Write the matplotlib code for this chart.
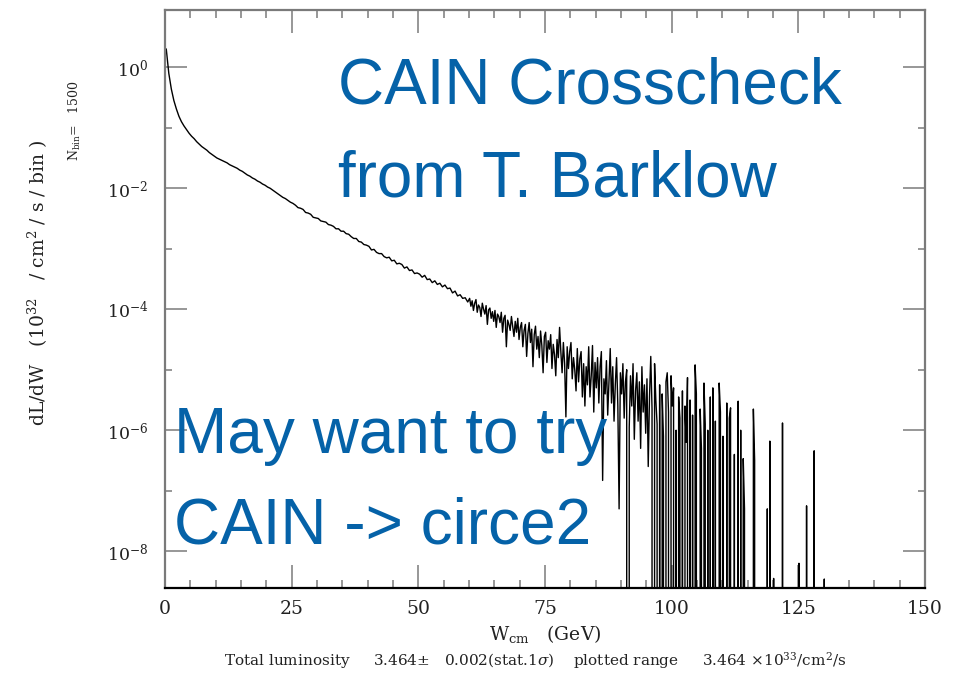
import numpy as np
import matplotlib
matplotlib.use("Agg")
import matplotlib.pyplot as plt
from matplotlib.ticker import FixedLocator, MultipleLocator, NullFormatter

# ---------------- data ----------------
# Region A: 0-60 GeV, bins of 0.5 GeV; log10(dL/dW) per bin
A_start, A_width = 0.0, 0.5
log10_dLdW_A = [
    0.30, -0.10, -0.36, -0.55, -0.69, -0.81, -0.90, -0.97, -1.03, -1.09,   # 0-5
    -1.14, -1.18, -1.23, -1.27, -1.31, -1.34, -1.37, -1.41, -1.44, -1.47,  # 5-10
    -1.50, -1.52, -1.54, -1.56, -1.58, -1.61, -1.63, -1.65, -1.67, -1.70,  # 10-15
    -1.72, -1.75, -1.78, -1.80, -1.83, -1.85, -1.88, -1.90, -1.93, -1.95,  # 15-20
    -1.98, -2.00, -2.03, -2.06, -2.09, -2.12, -2.15, -2.17, -2.20, -2.23,  # 20-25
    -2.25, -2.28, -2.32, -2.33, -2.35, -2.40, -2.41, -2.43, -2.48, -2.49,  # 25-30
    -2.50, -2.54, -2.55, -2.56, -2.60, -2.61, -2.63, -2.67, -2.67, -2.71,  # 30-35
    -2.71, -2.75, -2.76, -2.80, -2.83, -2.83, -2.88, -2.89, -2.93, -2.94,  # 35-40
    -2.96, -3.02, -3.01, -3.06, -3.08, -3.08, -3.13, -3.15, -3.14, -3.20,  # 40-45
    -3.19, -3.25, -3.24, -3.26, -3.32, -3.30, -3.36, -3.35, -3.41, -3.40,  # 45-50
    -3.42, -3.47, -3.44, -3.51, -3.50, -3.56, -3.53, -3.59, -3.57, -3.63,  # 50-55
    -3.60, -3.66, -3.65, -3.73, -3.70, -3.78, -3.76, -3.82, -3.81, -3.88,  # 55-60
]
# Region B: 60-131 GeV, bins of 0.25 GeV; None = empty bin
B_start, B_width = 60.0, 0.25
log10_dLdW_B = [
    -3.82, -3.95, -3.86, -4.02,   -3.90, -3.84, -4.05, -3.93,   # 60-62
    -3.97, -4.12, -3.90, -4.00,   -4.08, -3.94, -4.25, -4.01,   # 62-64
    -3.98, -4.15, -4.04, -4.20,   -4.02, -4.30, -4.08, -4.12,   # 64-66
    -4.22, -4.05, -4.38, -4.15,   -4.10, -4.62, -4.18, -4.25,   # 66-68
    -4.35, -4.12, -4.28, -4.45,   -4.20, -4.38, -4.15, -4.50,   # 68-70
    -4.30, -4.22, -4.62, -4.35,   -4.25, -4.78, -4.40, -4.22,   # 70-72
    -4.55, -4.33, -4.95, -4.42,   -4.28, -4.66, -4.45, -4.80,   # 72-74
    -4.36, -4.60, -5.05, -4.45,   -4.38, -4.88, -4.52, -4.66,   # 74-76
    -4.42, -4.98, -4.58, -4.75,   -5.10, -4.50, -4.80, -4.30,   # 76-78
    -4.70, -5.05, -4.55, -4.90,   -5.78, -4.62, -4.98, -4.70,   # 78-80
    -4.55, -5.15, -4.80, -5.00,   -5.35, -4.65, -5.20, -4.82,   # 80-82
    -4.70, -5.45, -4.90, -5.60,   -4.95, -5.25, -4.62, -5.45,   # 82-84
    -5.10, -4.60, -5.70, -4.88,   -5.30, -4.80, -5.55, -4.95,   # 84-86
    -4.70, -6.83, -5.15, -5.40,   -4.85, -5.75, -5.20, -4.65,   # 86-88
    -5.55, -4.95, -5.85, -5.25,   -4.80, -5.60, -7.30, -5.05,   # 88-90
    -5.40, -4.90, -5.80, -5.20,   -5.00, None, -5.95, -5.10,    # 90-92
    -5.60, -4.90, -6.15, -5.35,   -5.05, -5.85, -5.20, -6.30,   # 92-94
    -4.95, -5.70, -5.25, -6.05,   -5.15, -6.60, -5.45, -4.78,   # 94-96
    -5.65, None, -4.90, -5.50,    -5.90, None, -5.25, None,     # 96-98
    -5.40, -6.10, None, -5.20,    -5.05, -5.70, None, -5.10,    # 98-100
    -5.60, -5.30, None, -6.00,    None, -5.45, -5.80, None,     # 100-102
    -5.35, None, -5.60, -6.20,    -5.13, None, -5.50, None,     # 102-104
    -5.75, None, -4.92, -5.40,    None, None, -5.65, -6.30,     # 104-106
    None, -5.22, -5.90, None,     -6.00, None, -5.45, None,     # 106-108
    -5.30, None, -5.85, None,     None, -5.22, -5.70, None,     # 108-110
    -6.10, None, None, -5.55,     None, -5.80, -5.63, None,     # 110-112
    None, -6.40, None, None,      -5.52, None, -6.00, None,     # 112-114
    -6.47, -7.30, None, None,     None, None, None, None,       # 114-116
    -5.65, -6.50, None, None,     None, None, None, None,       # 116-118
    None, None, None, -7.30,      None, -6.18, None, None,      # 118-120
    -8.45, None, None, None,      None, None, None, -5.88,      # 120-122
    None, None, None, None,       None, None, None, None,       # 122-124
    None, None, None, None,       -8.20, None, None, None,      # 124-126
    None, None, -7.25, None,      None, None, None, None,       # 126-128
    -6.34, None, None, None,      None, None, None, None,       # 128-130
    -8.46, None, None, None,                                    # 130-131
]
x_tick_values = [0, 25, 50, 75, 100, 125, 150]
y_major_exp = [0, -2, -4, -6, -8]
y_minor_exp = [-1, -3, -5, -7]

n_bins_text = "1500"
total_lumi = "3.464"
lumi_err = "0.002"
plotted_lumi = "3.464"

# ---------------- figure ----------------
plt.rcParams['font.family'] = ['DejaVu Serif']
plt.rcParams['mathtext.fontset'] = 'dejavuserif'


def to_values(logs):
    return np.array([0.0 if v is None else 10.0 ** v for v in logs])


vals_A = to_values(log10_dLdW_A)
vals_B = to_values(log10_dLdW_B)
cent_A = A_start + A_width * (np.arange(len(vals_A)) + 0.5)
cent_B = B_start + B_width * (np.arange(len(vals_B)) + 0.5)
W_centers = np.concatenate([cent_A, cent_B])
values = np.concatenate([vals_A, vals_B])

W, H = 969, 673
fig = plt.figure(figsize=(W / 100, H / 100), dpi=100)
L, R, T, B = 165, 925, 10, 587.5
ax = fig.add_axes([L / W, 1 - B / H, (R - L) / W, (B - T) / H])
ax.set_yscale('log', nonpositive='clip')
ax.plot(W_centers, values, color='black', linewidth=1.0, zorder=2)

ax.set_xlim(0, 150)
ax.set_ylim(10 ** -8.6, 10 ** 0.947)

ax.set_xticks(x_tick_values)
ax.set_xticklabels([str(v) for v in x_tick_values])
ax.xaxis.set_minor_locator(MultipleLocator(5))
ax.set_yticks([10.0 ** e for e in y_major_exp])
ax.set_yticklabels([r'$10^{%d}$' % e for e in y_major_exp])
ax.yaxis.set_minor_locator(FixedLocator([10.0 ** e for e in y_minor_exp]))
ax.yaxis.set_minor_formatter(NullFormatter())

grey = '#7a7a7a'
for side in ['left', 'top', 'right']:
    ax.spines[side].set_color(grey)
    ax.spines[side].set_linewidth(1.6)
ax.spines['bottom'].set_color('black')
ax.spines['bottom'].set_linewidth(1.6)

ax.tick_params(which='both', direction='in', top=True, right=True,
               color=grey, width=1.1, labelcolor='#222222')
ax.tick_params(axis='y', which='major', length=16, pad=12, labelsize=12.5)
ax.tick_params(axis='y', which='minor', length=5)
ax.tick_params(axis='x', which='major', length=16.5, pad=9, labelsize=13.5)
ax.tick_params(axis='x', which='minor', length=6)

# axis texts
fig.text(38 / W, 1 - 283 / H,
         r'dL/dW   (10$^{32}$   / cm$^{2}$ / s / bin )',
         rotation=90, ha='center', va='center', fontsize=13.5, color='#222222')
fig.text(75 / W, 1 - 121 / H, r'N$_{\rm bin}$=   ' + n_bins_text,
         rotation=90, ha='center', va='center', fontsize=9, color='#222222')
fig.text(545 / W, 1 - 640 / H, r'W$_{\rm cm}$   (GeV)', ha='center', va='baseline',
         fontsize=13.5, color='#222222')
fig.text(535 / W, 1 - 666 / H,
         'Total luminosity     ' + total_lumi + '\u00b1   ' + lumi_err +
         r'(stat.1$\sigma$)    plotted range     ' + plotted_lumi +
         r' $\times$10$^{33}$/cm$^{2}$/s',
         ha='center', va='baseline', fontsize=11, color='#222222')

# blue annotations
blue = '#0562a8'
sans = ['Liberation Sans', 'DejaVu Sans']
for txt, x, yb in [('CAIN Crosscheck', 338, 103.5), ('from T. Barklow', 338, 196),
                   ('May want to try', 174, 452.5), ('CAIN -> circe2', 174, 543.5)]:
    fig.text(x / W, 1 - yb / H, txt, ha='left', va='baseline', fontsize=46,
             color=blue, family=sans, zorder=5)

fig.savefig('out.png', dpi=100)
